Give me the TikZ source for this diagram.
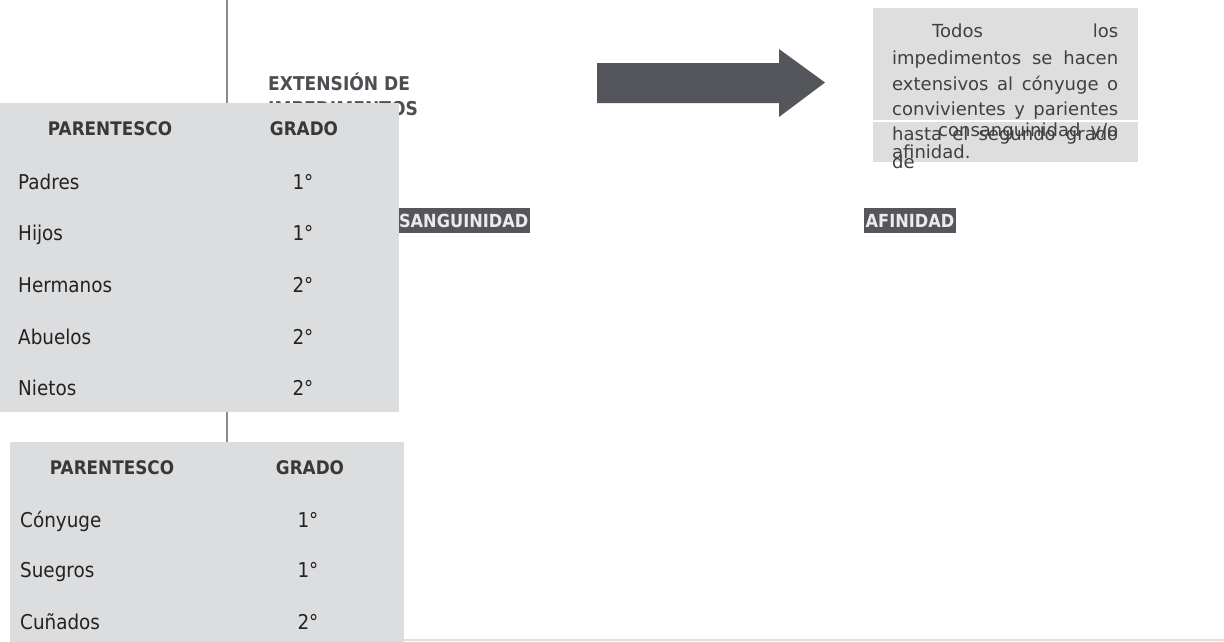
\documentclass[tikz,border=0pt]{standalone}
\usepackage{fontspec}
\setmainfont{DejaVu Sans}[FakeStretch=0.9]
\newfontfamily\boxfont{DejaVu Sans}
\definecolor{tblfill}{HTML}{DCDDDF}
\definecolor{boxfill}{HTML}{DEDEDE}
\definecolor{darkfill}{HTML}{54565B}
\definecolor{txtdark}{HTML}{222222}
\definecolor{boxtxt}{HTML}{404040}
\definecolor{vline}{HTML}{8A8A8A}
\begin{document}
\begin{tikzpicture}[x=1pt,y=-1pt,
  tbl/.style={fill=tblfill,draw=none,inner sep=0pt,anchor=north west},
  cell/.style={inner sep=0pt,anchor=base west,text=txtdark,font=\fontsize{20.4}{24}\selectfont},
  grade/.style={inner sep=0pt,anchor=base,text=txtdark,font=\fontsize{20.4}{24}\selectfont},
  head/.style={inner sep=0pt,anchor=base,text=txtdark!90,font=\bfseries\fontsize{18.7}{22}\selectfont},
  title/.style={inner sep=0pt,anchor=base west,text=darkfill!90!black,font=\bfseries\fontsize{19}{22}\selectfont},
  tag/.style={fill=darkfill,text=white!92!black,inner xsep=1.5pt,inner ysep=0pt,minimum height=25pt,font=\bfseries\fontsize{18}{20}\selectfont},
  btxt/.style={inner sep=0pt,anchor=base west,text=boxtxt,font=\boxfont\fontsize{18}{20}\selectfont}
]
\useasboundingbox (0,0) rectangle (1224,641);
\fill[white] (0,0) rectangle (1224,641);

% vertical rule
\coordinate (vtop) at (227,0);
\coordinate (vbot) at (227,460);
\draw[vline,line width=1.8pt] (vtop) -- (vbot);

% bottom rule
\coordinate (bl) at (404,639.8);
\coordinate (br) at (1224,639.8);
\draw[black!12,line width=1.6pt] (bl) -- (br);

% title
\node[title] (ext1) at (268,90) {EXTENSIÓN DE};
\node[title] (ext2) at (268,115) {IMPEDIMENTOS};

% labels
\node[tag,anchor=east] (cons) at (530,220.5) {CONSANGUINIDAD};
\node[tag,anchor=west] (afin) at (864,220.5) {AFINIDAD};

% arrow
\fill[darkfill] (597,63) -- (779,63) -- (779,49) -- (825,82.5) -- (779,117) -- (779,103) -- (597,103) -- cycle;

% text box
\node[fill=boxfill,inner sep=0pt,anchor=north west,minimum width=265pt,minimum height=154pt] (tbox) at (873,8) {};
\draw[white,line width=1.5pt] (tbox.west |- 0,121) -- (tbox.east |- 0,121);
\node[btxt] (l1) at (932,37) {\makebox[186pt][s]{Todos los}};
\node[btxt] (l2) at (892,64) {\makebox[226pt][s]{impedimentos se hacen}};
\node[btxt] (l3) at (892,90) {\makebox[226pt][s]{extensivos al cónyuge o}};
\node[btxt] (l4) at (892,115) {\makebox[226pt][s]{convivientes y parientes}};
\node[btxt] (l5) at (892,140) {\makebox[226pt][s]{hasta el segundo grado}};
\node[btxt] (l5b) at (938,136) {\makebox[180pt][s]{consanguinidad y/o}};
\node[btxt] (l6) at (892,158) {afinidad.};
\node[btxt] (l7) at (892,168) {de};

% table 1
\node[tbl,minimum width=399pt,minimum height=309pt] (t1) at (0,103) {};
\node[head] (t1h1) at (110,135) {PARENTESCO};
\node[head] (t1h2) at (304,135) {GRADO};
\node[cell] (r1a) at (18,189) {Padres};   \node[grade] (r1b) at (303,189) {1°};
\node[cell] (r2a) at (18,240) {Hijos};    \node[grade] (r2b) at (303,240) {1°};
\node[cell] (r3a) at (18,292) {Hermanos}; \node[grade] (r3b) at (303,292) {2°};
\node[cell] (r4a) at (18,344) {Abuelos};  \node[grade] (r4b) at (303,344) {2°};
\node[cell] (r5a) at (18,395) {Nietos};   \node[grade] (r5b) at (303,395) {2°};

% table 2
\node[tbl,minimum width=394pt,minimum height=200pt] (t2) at (10,442) {};
\node[head] (t2h1) at (112,474) {PARENTESCO};
\node[head] (t2h2) at (310,474) {GRADO};
\node[cell] (s1a) at (20,527) {Cónyuge};  \node[grade] (s1b) at (308,527) {1°};
\node[cell] (s2a) at (20,577) {Suegros};  \node[grade] (s2b) at (308,577) {1°};
\node[cell] (s3a) at (20,629) {Cuñados};  \node[grade] (s3b) at (308,629) {2°};
\end{tikzpicture}
\end{document}
